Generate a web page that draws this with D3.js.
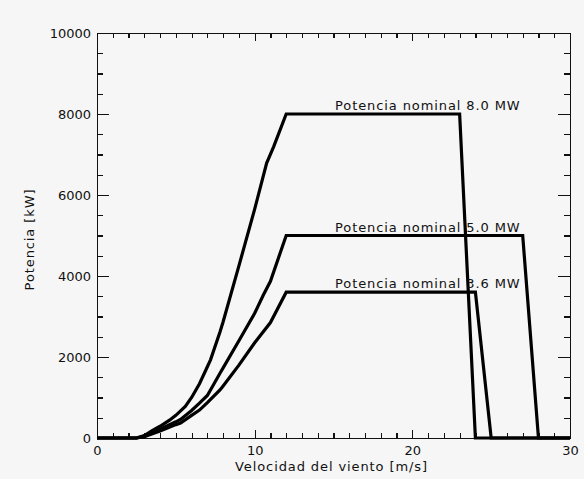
<!DOCTYPE html>
<html>
<head>
<meta charset="utf-8">
<script src="https://d3js.org/d3.v7.min.js"></script>
<style>
  body { margin: 0; background: #f6f6f6; }
  svg { display: block; }
  .axis path, .axis line { stroke: #111; stroke-width: 1.2; shape-rendering: crispEdges; }
  .axis text { font-family: "DejaVu Sans", sans-serif; font-size: 13px; fill: #111; }
  .curve { fill: none; stroke: #000; stroke-width: 3.2; stroke-linejoin: miter; }
  .label { font-family: "DejaVu Sans", sans-serif; font-size: 13px; fill: #111; letter-spacing: 0.9px; }
</style>
</head>
<body>
<div class="plot"></div>
<script>
// curvas de potencia (velocidad en m/s, potencia en kW)
var speed80 = [0, 2.5, 3, 3.5, 4, 4.6, 5, 5.6, 6, 6.5, 7, 7.2, 7.8, 8, 9, 10, 10.76, 11.2, 12, 23, 24, 30];
var power80 = [0, 0, 60, 180, 290, 440, 560, 780, 1000, 1340, 1760, 1930, 2620, 2870, 4250, 5650, 6790, 7190, 8000, 8000, 0, 0];

var speed50 = [0, 2.5, 3, 4, 5, 5.3, 6, 6.5, 7, 7.8, 8, 9, 10, 10.55, 11, 12, 27, 28, 30];
var power50 = [0, 0, 40, 220, 400, 460, 680, 860, 1050, 1600, 1730, 2400, 3080, 3530, 3870, 5000, 5000, 0, 0];

var speed36 = [0, 2.5, 3, 4, 5, 5.3, 6, 6.5, 7, 7.8, 8, 9, 10, 11, 12, 24, 25, 30];
var power36 = [0, 0, 30, 170, 330, 370, 560, 690, 875, 1185, 1285, 1800, 2350, 2850, 3600, 3600, 0, 0];

var seriesNames = ["Potencia nominal 8.0 MW", "Potencia nominal 5.0 MW", "Potencia nominal 3.6 MW"];
var ratedPower = [8000, 5000, 3600];

var xMajor = [0, 10, 20, 30];
var yMajor = [0, 2000, 4000, 6000, 8000, 10000];
var xTitle = "Velocidad del viento [m/s]";
var yTitle = "Potencia [kW]";

var W = 584, H = 479;
var margin = {top: 33, right: 14, bottom: 41, left: 97},
    width = W - margin.left - margin.right,
    height = H - margin.top - margin.bottom;

var svg = d3.select(".plot")
  .append("svg")
  .attr("width", W)
  .attr("height", H);

svg.append("rect")
  .attr("width", W)
  .attr("height", H)
  .attr("fill", "#f6f6f6");

var x = d3.scaleLinear().domain([0, 30]).range([0, width]);
var y = d3.scaleLinear().domain([0, 10000]).range([height, 0]);

var g = svg.append("g")
  .attr("transform", "translate(" + margin.left + "," + margin.top + ")");

// minor ticks: 1 m/s and 500 kW
var xMinor = d3.range(0, 31, 1).filter(function(d){ return d % 10 !== 0; });
var yMinor = d3.range(0, 10001, 500).filter(function(d){ return d % 2000 !== 0; });

function noLabel() { return ""; }

// bottom
g.append("g").attr("class", "axis")
  .attr("transform", "translate(0," + height + ")")
  .call(d3.axisBottom(x).tickValues(xMajor).tickSizeInner(-8).tickSizeOuter(0).tickPadding(8).tickFormat(d3.format("d")));
g.append("g").attr("class", "axis")
  .attr("transform", "translate(0," + height + ")")
  .call(d3.axisBottom(x).tickValues(xMinor).tickSizeInner(-5).tickSizeOuter(0).tickFormat(noLabel));
// top
g.append("g").attr("class", "axis")
  .call(d3.axisTop(x).tickValues(xMajor).tickSizeInner(-8).tickSizeOuter(0).tickFormat(noLabel));
g.append("g").attr("class", "axis")
  .call(d3.axisTop(x).tickValues(xMinor).tickSizeInner(-5).tickSizeOuter(0).tickFormat(noLabel));
// left
g.append("g").attr("class", "axis")
  .call(d3.axisLeft(y).tickValues(yMajor).tickSizeInner(-12).tickSizeOuter(0).tickPadding(6).tickFormat(d3.format("d")));
g.append("g").attr("class", "axis")
  .call(d3.axisLeft(y).tickValues(yMinor).tickSizeInner(-6).tickSizeOuter(0).tickFormat(noLabel));
// right
g.append("g").attr("class", "axis")
  .attr("transform", "translate(" + width + ",0)")
  .call(d3.axisRight(y).tickValues(yMajor).tickSizeInner(-12).tickSizeOuter(0).tickFormat(noLabel));
g.append("g").attr("class", "axis")
  .attr("transform", "translate(" + width + ",0)")
  .call(d3.axisRight(y).tickValues(yMinor).tickSizeInner(-6).tickSizeOuter(0).tickFormat(noLabel));

// curves
var line = d3.line()
  .x(function(d) { return x(d[0]); })
  .y(function(d) { return y(d[1]); });

var curves = [
  d3.zip(speed80, power80),
  d3.zip(speed50, power50),
  d3.zip(speed36, power36)
];

g.selectAll(".curve")
  .data(curves)
  .enter().append("path")
  .attr("class", "curve")
  .attr("d", line);

// labels above the rated-power plateaus
g.selectAll(".label")
  .data(seriesNames)
  .enter().append("text")
  .attr("class", "label")
  .attr("x", x(15.1))
  .attr("y", function(d, i) { return y(ratedPower[i]) - 4; })
  .text(function(d) { return d; });

// axis titles
svg.append("text")
  .attr("class", "label")
  .attr("text-anchor", "middle")
  .attr("x", margin.left + width / 2 - 2)
  .attr("y", 471)
  .text(xTitle);

svg.append("text")
  .attr("class", "label")
  .attr("text-anchor", "middle")
  .attr("transform", "translate(34," + (margin.top + height / 2 + 4) + ") rotate(-90)")
  .text(yTitle);
</script>
</body>
</html>
